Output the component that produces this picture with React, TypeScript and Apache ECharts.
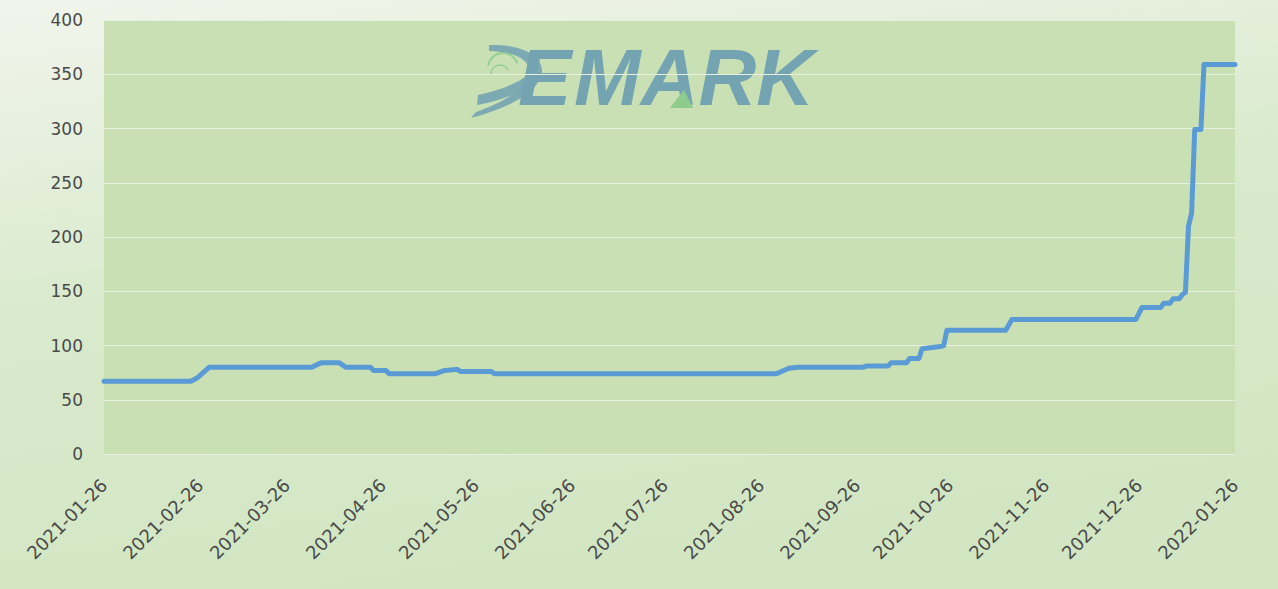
import React, { useEffect, useRef } from "react";
import * as echarts from "echarts";

// ---- data ----
const DATES: string[] = [
  "2021-01-26", "2021-02-23", "2021-02-25", "2021-03-01", "2021-04-03", "2021-04-06",
  "2021-04-12", "2021-04-14", "2021-04-22", "2021-04-23", "2021-04-27", "2021-04-28",
  "2021-05-13", "2021-05-16", "2021-05-20", "2021-05-21", "2021-05-31", "2021-06-01",
  "2021-08-31", "2021-09-04", "2021-09-07", "2021-09-28", "2021-09-29", "2021-10-06",
  "2021-10-07", "2021-10-12", "2021-10-13", "2021-10-16", "2021-10-17", "2021-10-23",
  "2021-10-24", "2021-10-25", "2021-11-13", "2021-11-15", "2021-12-25", "2021-12-27",
  "2022-01-02", "2022-01-03", "2022-01-05", "2022-01-06", "2022-01-08", "2022-01-09",
  "2022-01-10", "2022-01-11", "2022-01-12", "2022-01-13", "2022-01-15", "2022-01-16",
  "2022-01-26",
];
const VALUES: number[] = [
  67, 67, 70, 80, 80, 84,
  84, 80, 80, 77, 77, 74,
  74, 77, 78, 76, 76, 74,
  74, 79, 80, 80, 81, 81,
  84, 84, 88, 88, 97, 99,
  100, 114, 114, 124, 124, 135,
  135, 139, 139, 143, 143, 147,
  149, 210, 222, 299, 299, 359,
  359,
];
const TICK_LABELS: string[] = [
  "2021-01-26", "2021-02-26", "2021-03-26", "2021-04-26", "2021-05-26", "2021-06-26",
  "2021-07-26", "2021-08-26", "2021-09-26", "2021-10-26", "2021-11-26", "2021-12-26",
  "2022-01-26",
];
const Y_MIN = 0;
const Y_MAX = 400;
const Y_STEP = 50;

const ts = (s: string) => {
  const [y, m, d] = s.split("-").map(Number);
  return new Date(y, m - 1, d).getTime();
};

// logo shapes
const D_OUTER =
  "M489 45 C520 44 543 55 542 72 C540 91 510 108 471 118 L476 112 C505 102 527 88 529 72 C530 60 516 52 489 51 Z";
const D_INNER =
  "M478 95 C498 91 516 84 528 75 L529 84 C517 95 499 101 477 105 Z";
echarts.graphic.registerShape("dmarkOuter", echarts.graphic.extendPath(D_OUTER, {}));
echarts.graphic.registerShape("dmarkInner", echarts.graphic.extendPath(D_INNER, {}));

export default function App() {
  const ref = useRef<HTMLDivElement>(null);
  useEffect(() => {
    if (!ref.current) return;
    const chart = echarts.init(ref.current, undefined, { renderer: "svg" });
    const labelColor = "#4a4a4a";
    const logoColor = "#74a3b1";
    chart.setOption({
      animation: false,
      backgroundColor: {
        type: "linear",
        x: 0, y: 0, x2: 0.3, y2: 1,
        colorStops: [
          { offset: 0, color: "#f1f5ec" },
          { offset: 0.5, color: "#d9eacd" },
          { offset: 1, color: "#d2e6c3" },
        ],
      },
      grid: {
        left: 104, right: 43, top: 20, bottom: 135,
        show: true, backgroundColor: "#c8e0b4", borderWidth: 0,
      },
      xAxis: {
        type: "time",
        min: ts(TICK_LABELS[0]),
        max: ts(TICK_LABELS[TICK_LABELS.length - 1]),
        axisLine: { show: false },
        axisTick: { show: false },
        splitLine: { show: false },
        axisLabel: {
          customValues: TICK_LABELS.map(ts),
          formatter: "{yyyy}-{MM}-{dd}",
          rotate: 45,
          fontSize: 18,
          fontFamily: "DejaVu Sans",
          color: labelColor,
          margin: 28,
          hideOverlap: false,
          showMinLabel: true,
          showMaxLabel: true,
        },
      },
      yAxis: {
        type: "value",
        min: Y_MIN, max: Y_MAX, interval: Y_STEP,
        axisLine: { show: false },
        axisTick: { show: false },
        axisLabel: { fontSize: 17, fontFamily: "DejaVu Sans", color: labelColor, margin: 21 },
        splitLine: { lineStyle: { color: "#e7f0df", width: 1 } },
      },
      series: [
        {
          type: "line",
          data: DATES.map((d, i) => [ts(d), VALUES[i]]),
          showSymbol: false,
          lineStyle: { color: "#5b9bd5", width: 5, cap: "round", join: "round" },
          itemStyle: { color: "#5b9bd5" },
          z: 5,
        },
      ],
      graphic: [
        {
          type: "group",
          z: 1,
          children: [
            { type: "dmarkOuter", x: 0, y: 0, style: { fill: logoColor, opacity: 0.9 } },
            { type: "dmarkInner", x: 0, y: 0, style: { fill: logoColor, opacity: 0.9 } },
            {
              type: "arc", shape: { cx: 503, cy: 68, r: 15, startAngle: Math.PI * 1.05, endAngle: Math.PI * 1.9 },
              style: { stroke: "#92cf92", lineWidth: 2, fill: "none" },
            },
            {
              type: "arc", shape: { cx: 500, cy: 74, r: 9, startAngle: Math.PI * 1.0, endAngle: Math.PI * 1.85 },
              style: { stroke: "#92cf92", lineWidth: 1.5, fill: "none" },
            },
            {
              type: "text", x: 518, y: 117,
              style: {
                text: "E", font: "italic bold 80px 'Liberation Sans'", fill: logoColor,
                textVerticalAlign: "bottom",
              },
            },
            {
              type: "text", x: 574, y: 117,
              style: {
                text: "MARK", font: "italic bold 80px 'Liberation Sans'", fill: logoColor,
                textVerticalAlign: "bottom",
              },
            },
            {
              type: "polygon", shape: { points: [[684, 90], [670, 108], [693, 108]] },
              style: { fill: "#8dcc8a" },
            },
          ],
        },
      ],
    });
    return () => chart.dispose();
  }, []);
  return (
    <div
      ref={ref}
      style={{ position: "fixed", left: 0, top: 0, width: 1278, height: 589 }}
    />
  );
}
